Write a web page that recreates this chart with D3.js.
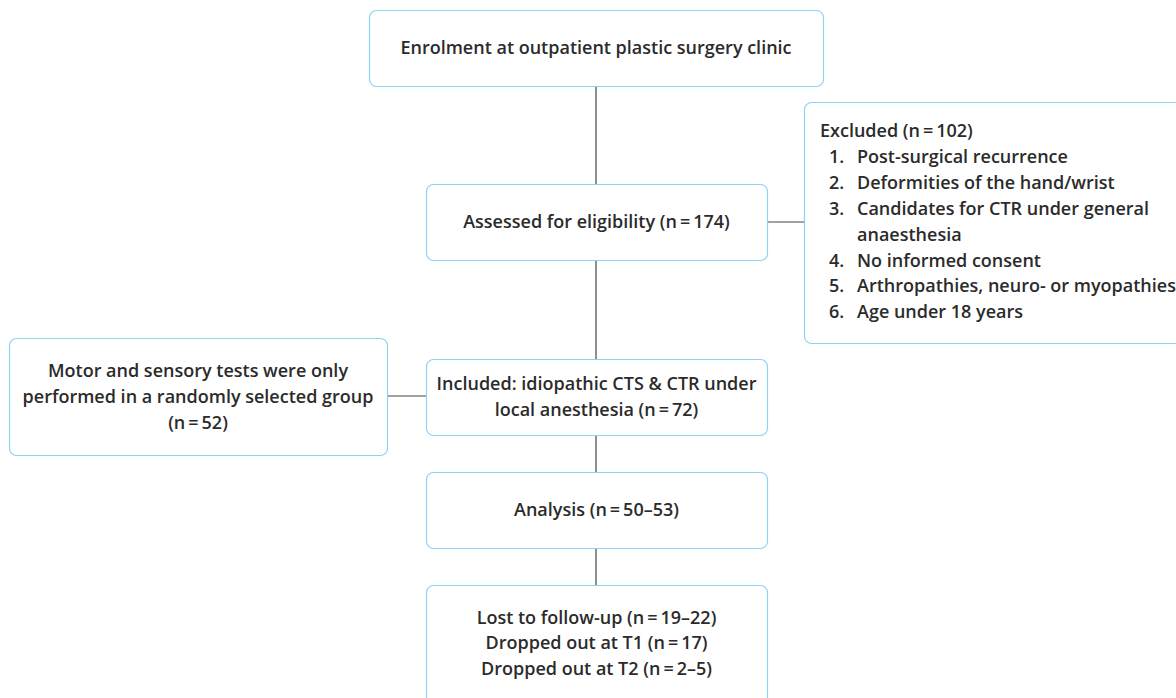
<!DOCTYPE html>
<html>
<head>
<meta charset="utf-8">
<script src="https://cdn.jsdelivr.net/npm/d3@7"></script>
<style>
  body { margin: 0; background: #fff; }
  text { font-family: "Open Sans", sans-serif; font-weight: 600; fill: #2b2b2b; }
</style>
</head>
<body>
<div id="flow"></div>
<script>
// box texts (one entry per line)
var enrolLines = ["Enrolment at outpatient plastic surgery clinic"]
var assessLines = ["Assessed for eligibility (n\u2009=\u2009174)"]
var includedLines = ["Included: idiopathic CTS & CTR under", "local anesthesia (n\u2009=\u200972)"]
var analysisLines = ["Analysis (n\u2009=\u200950\u201353)"]
var lostLines = ["Lost to follow-up (n\u2009=\u200919\u201322)", "Dropped out at T1 (n\u2009=\u200917)", "Dropped out at T2 (n\u2009=\u20092\u20135)"]
var motorLines = ["Motor and sensory tests were only", "performed in a randomly selected group", "(n\u2009=\u200952)"]
var excludedTitle = "Excluded (n\u2009=\u2009102)"
var excludedItems = ["1.", "2.", "3.", "", "4.", "5.", "6."]
var excludedText = ["Post-surgical recurrence", "Deformities of the hand/wrist", "Candidates for CTR under general", "anaesthesia", "No informed consent", "Arthropathies, neuro- or myopathies", "Age under 18 years"]

var width = 1176
    height = 698
    lineH = 25.8
    fontSize = 18

var svg = d3.select("#flow")
    .append("svg")
    .attr("width", width)
    .attr("height", height)

// layout of the boxes
var boxes = [
  {x: 369, y: 10, w: 454, h: 76, lines: enrolLines},
  {x: 426, y: 184, w: 341, h: 76, lines: assessLines},
  {x: 426, y: 359, w: 341, h: 76, lines: includedLines},
  {x: 426, y: 472, w: 341, h: 76, lines: analysisLines},
  {x: 426, y: 585, w: 341, h: 130, lines: lostLines, cy: 643},
  {x: 9, y: 338, w: 378, h: 117, lines: motorLines}
]
var exBox = {x: 804, y: 102, w: 400, h: 241}

// connector lines
var links = [
  [596, 86, 596, 585],
  [767, 222, 804, 222],
  [387, 396, 426, 396]
]
svg.selectAll("line.link")
  .data(links)
  .enter()
  .append("line")
  .attr("class", "link")
  .attr("x1", function(d) { return d[0] })
  .attr("y1", function(d) { return d[1] })
  .attr("x2", function(d) { return d[2] })
  .attr("y2", function(d) { return d[3] })
  .attr("stroke", "#444")
  .attr("stroke-width", 1.2)

var g = svg.selectAll("g.box")
  .data(boxes.concat([exBox]))
  .enter()
  .append("g")
  .attr("class", "box")

g.append("rect")
  .attr("x", function(d) { return d.x + 0.5 })
  .attr("y", function(d) { return d.y + 0.5 })
  .attr("width", function(d) { return d.w })
  .attr("height", function(d) { return d.h })
  .attr("rx", 7)
  .attr("fill", "#fff")
  .attr("stroke", "#8fd3f2")
  .attr("stroke-width", 1.2)

// centred text
g.filter(function(d) { return d.lines })
  .each(function(d) {
    var cy = d.cy || (d.y + d.h / 2)
    var n = d.lines.length
    d3.select(this).selectAll("text")
      .data(d.lines)
      .enter()
      .append("text")
      .attr("x", d.x + d.w / 2)
      .attr("y", function(t, i) { return cy + (i - (n - 1) / 2) * lineH })
      .attr("dy", "0.35em")
      .attr("text-anchor", "middle")
      .style("font-size", fontSize + "px")
      .text(function(t) { return t })
  })

// excluded list
var ex = svg.append("g")
ex.append("text")
  .attr("x", 820)
  .attr("y", 131)
  .attr("dy", "0.35em")
  .style("font-size", fontSize + "px")
  .text(excludedTitle)
ex.selectAll("text.num")
  .data(excludedItems)
  .enter()
  .append("text")
  .attr("class", "num")
  .attr("x", 829)
  .attr("y", function(d, i) { return 157 + i * lineH })
  .attr("dy", "0.35em")
  .style("font-size", fontSize + "px")
  .text(function(d) { return d })
ex.selectAll("text.item")
  .data(excludedText)
  .enter()
  .append("text")
  .attr("class", "item")
  .attr("x", 857)
  .attr("y", function(d, i) { return 157 + i * lineH })
  .attr("dy", "0.35em")
  .style("font-size", fontSize + "px")
  .text(function(d) { return d })
</script>
</body>
</html>
